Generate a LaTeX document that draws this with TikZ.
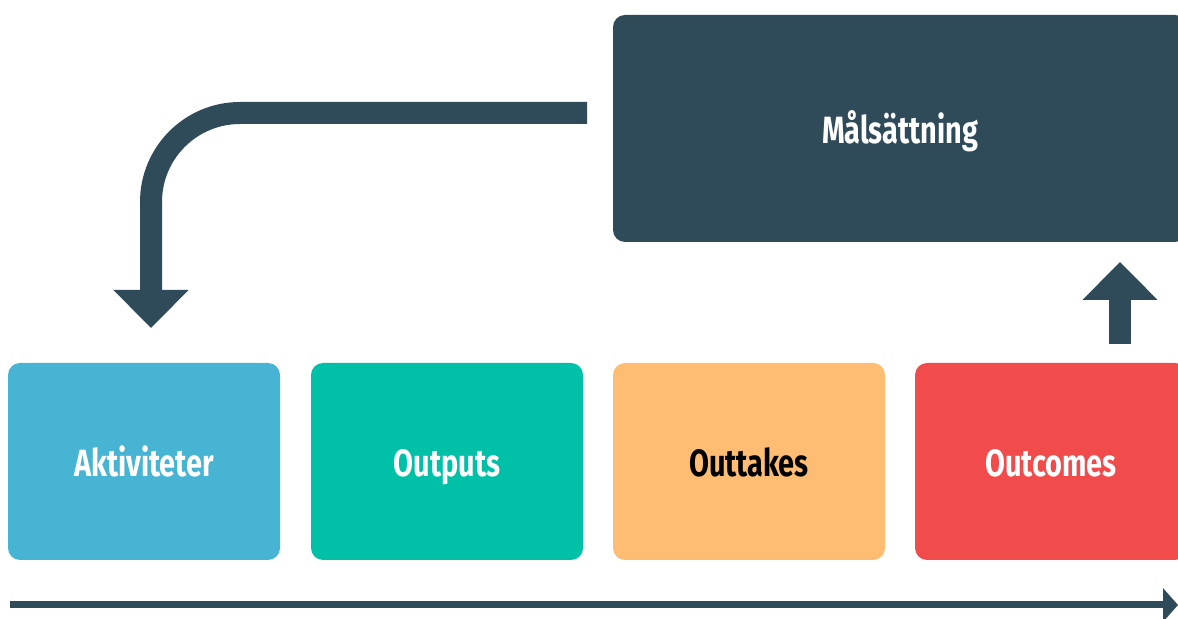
\documentclass[tikz,border=0pt]{standalone}
\usepackage{fontspec}
\setmainfont{Fira Sans}[FakeStretch=0.76]
\usetikzlibrary{arrows.meta}
\definecolor{slate}{RGB}{47,75,90}
\definecolor{akt}{RGB}{72,180,212}
\definecolor{outp}{RGB}{0,193,168}
\definecolor{outt}{RGB}{254,189,114}
\definecolor{outc}{RGB}{242,75,75}
\tikzset{
  card/.style={rounded corners=6pt, minimum width=136pt, minimum height=98.5pt,
    font=\bfseries\fontsize{19}{22}\selectfont, text=white, inner sep=0pt,
    text height=20pt, text depth=4.5pt},
  fatarrow/.style={slate, line width=11pt, -{Triangle[length=19pt, width=36.5pt]}}
}
\begin{document}
\begin{tikzpicture}[x=0.5pt, y=-0.5pt]
    \useasboundingbox (0,0) rectangle (1178,619);
    \clip (0,0) rectangle (1178,619);

    \node[card, fill=slate, minimum width=287pt, minimum height=113.5pt] (mal) at (900,128.5) {Målsättning};

    \node[card, fill=akt] (akt) at (144,461.5) {Aktiviteter};
    \node[card, fill=outp] (outp) at (447,461.5) {Outputs};
    \node[card, fill=outt, text=black] (outt) at (749,461.5) {Outtakes};
    \node[card, fill=outc] (outc) at (1051,461.5) {Outcomes};

    \coordinate (back) at (587,113);
    \coordinate (up) at (1120,344);
    \coordinate (t0) at (10,605);
    \coordinate (t1) at (1178,605);

    \draw[fatarrow, rounded corners=44.5pt] (back) -- (151,113) -- (151,328);
    \draw[fatarrow] (up) -- (1120,262);
    \draw[slate, line width=3.5pt, -{Triangle[length=7.5pt, width=16.5pt]}] (t0) -- (t1);

\end{tikzpicture}
\end{document}
